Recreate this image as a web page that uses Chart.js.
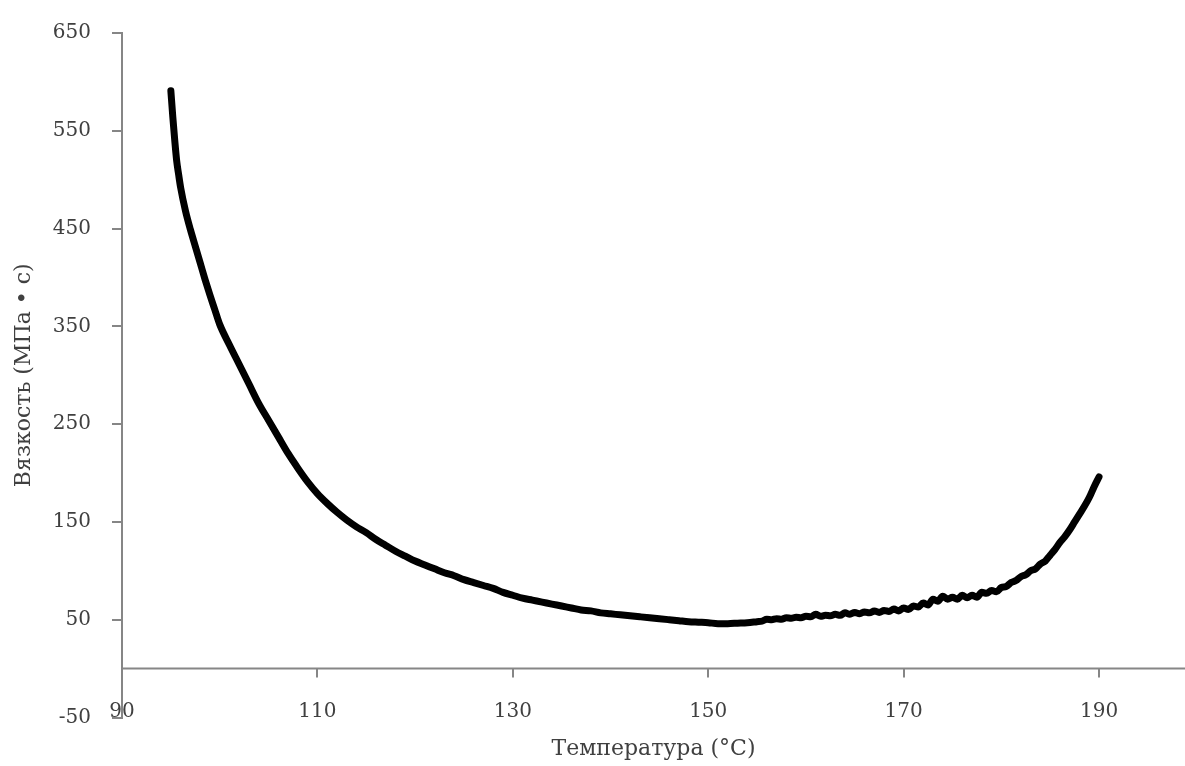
<!DOCTYPE html>
<html>
<head>
<meta charset="utf-8">
<script src="https://cdn.jsdelivr.net/npm/chart.js@4"></script>
<style>
  body { margin: 0; background: #fff; }
  #wrap { width: 1185px; height: 766px; }
</style>
</head>
<body>
<div id="wrap"><canvas id="myChart"></canvas></div>
<script>
// temperature (°C)
const temps = [
    95, 95.2, 95.4, 95.6, 95.8, 96, 96.5, 97, 97.5, 98, 98.5, 99, 99.5, 100, 101, 102,
    103, 104, 105, 106, 107, 108, 109,
    110, 111, 112, 113, 114, 115, 116, 117, 118, 119, 120, 121, 122, 123, 124, 125,
    126, 127, 128, 129, 130, 131, 132, 133, 134, 135, 136, 137, 138, 139, 140, 141,
    142, 143, 144, 145, 146, 147, 148, 149, 150, 151, 152, 153, 154,
    155, 155.5, 156, 156.5, 157, 157.5, 158, 158.5, 159, 159.5, 160, 160.5, 161, 161.5,
    162, 162.5, 163, 163.5, 164, 164.5, 165, 165.5, 166, 166.5, 167, 167.5, 168, 168.5,
    169, 169.5, 170, 170.5, 171, 171.5, 172, 172.5, 173, 173.5, 174, 174.5, 175, 175.5,
    176, 176.5, 177, 177.5, 178, 178.5, 179, 179.5, 180, 180.5, 181, 181.5, 182, 182.5,
    183, 183.5, 184, 184.5, 185, 185.5, 186, 186.5, 187, 187.5, 188, 188.5, 189, 189.5, 190
]
// viscosity (MPa·s)
const viscosity = [
    591, 564, 540, 519, 505, 492, 468, 449, 432, 415, 398, 382, 367, 352, 331, 311,
    291, 271, 254, 237, 220, 205, 191,
    179, 169, 160, 152, 145, 139, 132, 126, 120, 115, 110, 106, 102, 98, 95, 91,
    88, 85, 82, 78, 75, 72, 70, 68, 66, 64, 62, 60, 59, 57, 56, 55,
    54, 53, 52, 51, 50, 49, 48, 47.5, 47, 46, 46, 46.5, 47,
    48, 48.5, 50.5, 50, 51, 50.5, 52, 51.5, 52.5, 52, 53.5, 53, 55.5, 53.5,
    54.5, 54, 55.5, 54.5, 57, 55.5, 57.5, 56, 58, 57, 59, 57.5, 59.5, 58.5,
    61, 59, 62, 60.5, 64, 63, 67, 65, 71, 69, 74, 71, 73, 71,
    75, 72.5, 75, 73, 78, 77, 80, 78.5, 83, 84, 88, 90, 94, 96,
    100, 102, 107, 110, 116, 122, 129, 135, 142, 150, 158, 166, 175, 186, 196
]
const xTicks = [90, 110, 130, 150, 170, 190]
const yTicks = [-50, 50, 150, 250, 350, 450, 550, 650]

const axisGray = '#868686'
const textGray = '#404040'

// x axis line sits at y = 0, labels stay at the bottom
const zeroAxis = {
    id: 'zeroAxis',
    beforeDatasetsDraw: function(chart) {
        const ctx = chart.ctx
        const x = chart.scales.x
        const y0 = chart.scales.y.getPixelForValue(0)
        ctx.save()
        ctx.strokeStyle = axisGray
        ctx.lineWidth = 2
        ctx.beginPath()
        ctx.moveTo(chart.chartArea.left, y0)
        ctx.lineTo(chart.chartArea.right, y0)
        x.ticks.forEach(function(t) {
            const px = Math.round(x.getPixelForValue(t.value))
            ctx.moveTo(px, y0)
            ctx.lineTo(px, y0 + 9)
        })
        ctx.stroke()
        ctx.restore()
    }
}

const points = temps.map(function(t, i) {
    return { x: t, y: viscosity[i] }
})

new Chart(document.getElementById('myChart'), {
    type: 'scatter',
    data: {
        datasets: [{
            data: points,
            showLine: true,
            borderColor: '#000',
            borderWidth: 7,
            borderCapStyle: 'round',
            borderJoinStyle: 'round',
            pointRadius: 0,
            cubicInterpolationMode: 'monotone'
        }]
    },
    options: {
        responsive: true,
        maintainAspectRatio: false,
        animation: false,
        layout: { padding: { top: 27, right: 0, bottom: 0, left: 0 } },
        plugins: {
            legend: { display: false },
            tooltip: { enabled: false }
        },
        scales: {
            x: {
                type: 'linear',
                min: 90,
                max: 198.8,
                afterBuildTicks: function(s) {
                    s.ticks = xTicks.map(function(v) { return { value: v } })
                },
                afterFit: function(s) { s.height = 48.5 },
                grid: { display: false },
                border: { display: false },
                ticks: {
                    mirror: true,
                    padding: -6,
                    color: textGray,
                    font: { family: 'DejaVu Serif', size: 20 }
                },
                title: {
                    display: true,
                    text: 'Температура (°C)',
                    color: textGray,
                    font: { family: 'DejaVu Serif', size: 22 },
                    padding: { top: 0, bottom: 4 }
                }
            },
            y: {
                min: -50,
                max: 650,
                afterBuildTicks: function(s) {
                    s.ticks = yTicks.map(function(v) { return { value: v } })
                },
                afterFit: function(s) { s.width = 122 },
                grid: {
                    drawOnChartArea: false,
                    drawTicks: true,
                    tickLength: 10,
                    color: axisGray,
                    lineWidth: 2
                },
                border: { display: true, color: axisGray, width: 2 },
                ticks: {
                    padding: 21,
                    color: textGray,
                    font: { family: 'DejaVu Serif', size: 20 }
                },
                title: {
                    display: true,
                    text: 'Вязкость (МПа • с)',
                    color: textGray,
                    font: { family: 'DejaVu Serif', size: 22 },
                    padding: { top: 11, bottom: 0 }
                }
            }
        }
    },
    plugins: [zeroAxis]
})
</script>
</body>
</html>
